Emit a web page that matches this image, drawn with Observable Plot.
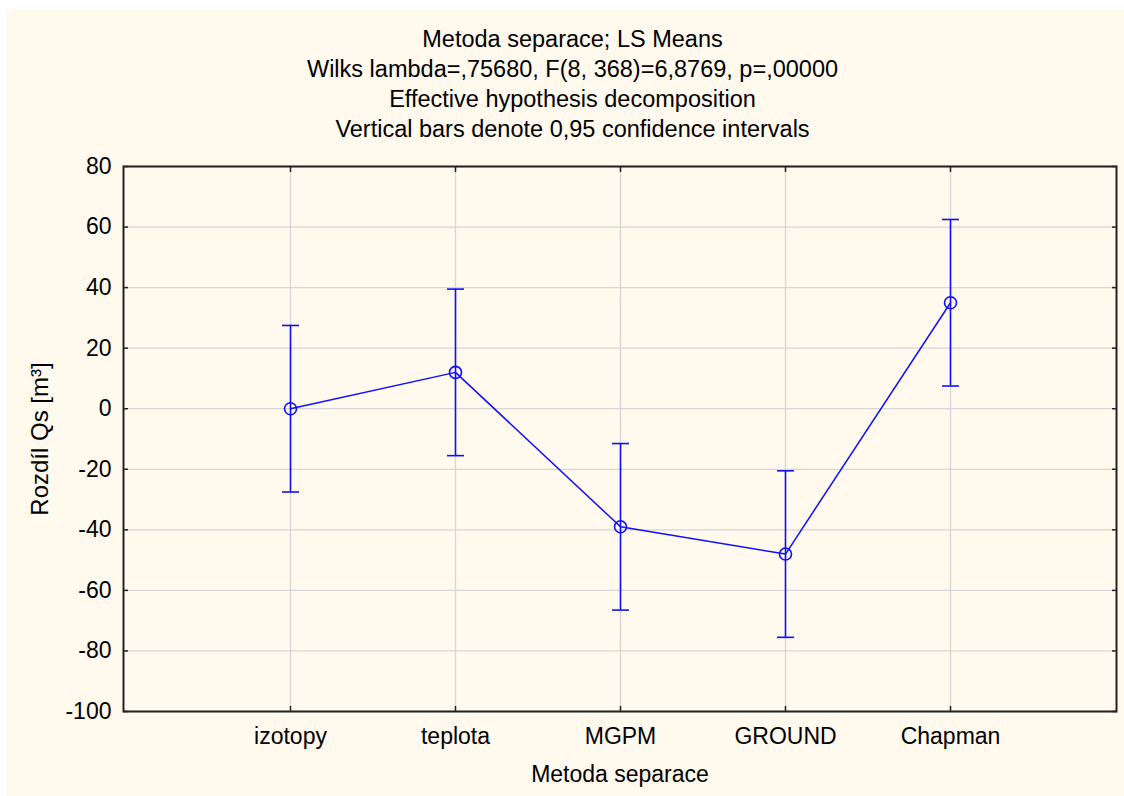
<!DOCTYPE html>
<html>
<head>
<meta charset="utf-8">
<script src="https://cdn.jsdelivr.net/npm/d3@7"></script>
<script src="https://cdn.jsdelivr.net/npm/@observablehq/plot@0.6"></script>
<style>
  html, body { margin: 0; padding: 0; background: #ffffff; }
  #chart { width: 1124px; height: 796px; position: relative; }
  #bg { position: absolute; left: 7px; top: 10px; right: 0; bottom: 0; background: #fff9ee; }
  #chart svg { display: block; position: absolute; left: 0; top: 0; }
</style>
</head>
<body>
<div id="chart"><div id="bg"></div></div>
<script>
const categories = ["izotopy", "teplota", "MGPM", "GROUND", "Chapman"];
const means = [0, 12, -39, -48, 35];
const lower = [-27.5, -15.5, -66.5, -75.5, 7.5];
const upper = [27.5, 39.5, -11.5, -20.5, 62.5];
const yTicks = [-100, -80, -60, -40, -20, 0, 20, 40, 60, 80];
const titleLines = [
  "Metoda separace; LS Means",
  "Wilks lambda=,75680, F(8, 368)=6,8769, p=,00000",
  "Effective hypothesis decomposition",
  "Vertical bars denote 0,95 confidence intervals"
];
const xLabel = "Metoda separace";
const yLabel = "Rozdíl Qs [m³]";

const data = categories.map((c, i) => ({cat: c, mean: means[i], lo: lower[i], hi: upper[i]}));

const blue = "#0f0fff";
const gridColor = "#d6d6d6";
const dark = "#222222";

// horizontal cap symbol for error bars
const capSymbol = {
  draw(context, size) {
    const w = Math.sqrt(size / Math.PI);
    context.moveTo(-w, 0);
    context.lineTo(w, 0);
  }
};

const titleMarks = titleLines.map((t, i) =>
  Plot.text([t], {
    frameAnchor: "top",
    textAnchor: "middle",
    lineAnchor: "middle",
    dx: -47.5,
    dy: -127.4 + 30 * i,
    fontSize: 23.5,
    fill: "#000"
  })
);

const chart = Plot.plot({
  width: 1124,
  height: 796,
  marginTop: 166,
  marginLeft: 123,
  marginRight: 8,
  marginBottom: 85,
  style: {fontFamily: "'Liberation Sans', Arial, sans-serif", fontSize: "23px", color: "#000", background: "none"},
  x: {type: "point", domain: categories, padding: 1, label: null},
  y: {domain: [-100, 80], label: null},
  marks: [
    Plot.rect([0], {x1: categories[0], x2: categories[categories.length - 1], y1: -100, y2: 80, fill: "#ffffff", insetLeft: -166, insetRight: -166}),
    Plot.gridY(yTicks, {stroke: gridColor, strokeOpacity: 1, strokeWidth: 1.3}),
    Plot.gridX(categories, {stroke: gridColor, strokeOpacity: 1, strokeWidth: 1.3}),
    Plot.ruleX(data, {x: "cat", y1: "lo", y2: "hi", stroke: blue, strokeWidth: 1.6}),
    Plot.dot(data, {x: "cat", y: "hi", symbol: capSymbol, r: 8.5, stroke: blue, strokeWidth: 1.6, fill: "none"}),
    Plot.dot(data, {x: "cat", y: "lo", symbol: capSymbol, r: 8.5, stroke: blue, strokeWidth: 1.6, fill: "none"}),
    Plot.line(data, {x: "cat", y: "mean", stroke: blue, strokeWidth: 1.5}),
    Plot.dot(data, {x: "cat", y: "mean", r: 6, stroke: blue, strokeWidth: 1.6, fill: "none"}),
    Plot.frame({stroke: dark, strokeWidth: 2}),
    Plot.axisY(yTicks, {anchor: "left", tickSize: 5, insetLeft: 5, fill: "none", label: null, stroke: dark, strokeWidth: 1.5}),
    Plot.axisY(yTicks, {anchor: "right", tickSize: 5, insetRight: 5, fill: "none", label: null, stroke: dark, strokeWidth: 1.5}),
    Plot.axisX(categories, {anchor: "bottom", tickSize: 5, insetBottom: 5, fill: "none", label: null, stroke: dark, strokeWidth: 1.5}),
    Plot.axisX(categories, {anchor: "top", tickSize: 5, insetTop: 5, fill: "none", label: null, stroke: dark, strokeWidth: 1.5}),
    Plot.axisY(yTicks, {anchor: "left", tickSize: 0, tickPadding: 12, label: null, fill: "#000", fontSize: 23, tickFormat: d => String(d)}),
    Plot.axisX(categories, {anchor: "bottom", tickSize: 0, tickPadding: 16, label: null, fill: "#000", fontSize: 23}),
    Plot.text([xLabel], {frameAnchor: "bottom", textAnchor: "middle", lineAnchor: "middle", dy: 63, fontSize: 23, fill: "#000"}),
    Plot.text([yLabel], {frameAnchor: "left", textAnchor: "middle", lineAnchor: "middle", rotate: -90, dx: -83, fontSize: 24, fill: "#000"}),
    ...titleMarks
  ]
});

document.getElementById("chart").appendChild(chart);
</script>
</body>
</html>
